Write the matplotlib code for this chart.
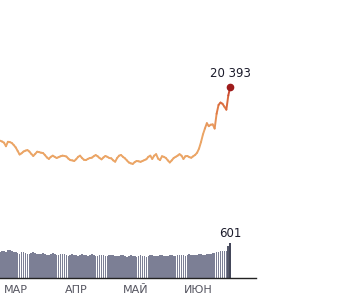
import numpy as np
import matplotlib
matplotlib.use("Agg")
import matplotlib.pyplot as plt
from matplotlib.collections import LineCollection
from matplotlib.colors import LinearSegmentedColormap

# Daily cases, from 27 Feb (day -2 relative to 1 Mar) to 25 Jun
cases = [11240, 11100, 10900, 10300, 11050, 11000, 10850, 10500, 10100, 9500,
         8900, 9100, 9400, 9550, 9650, 9400, 9000, 8650, 9000, 9370,
         9300, 9200, 9150, 8800, 8400, 8150, 8500, 8700, 8500, 8300,
         8450, 8600, 8700, 8650, 8550, 8200, 7950, 7900, 7800, 8100,
         8500, 8700, 8300, 8000, 7950, 8150, 8300, 8350, 8600, 8800,
         8600, 8300, 8080, 8400, 8650, 8500, 8300, 8250, 7900, 7680,
         8300, 8700, 8814, 8500, 8250, 7900, 7550, 7400, 7300, 7600,
         7800, 7750, 7650, 7800, 7950, 8100, 8500, 8700, 8150, 8700,
         8950, 8200, 7950, 8600, 8500, 8300, 7900, 7550, 7900, 8300,
         8500, 8700, 8950, 8700, 8150, 8600, 8650, 8450, 8350, 8600,
         8830, 9200, 9900, 11000, 12300, 13300, 14200, 13700, 13950, 14000,
         13300, 15800, 17300, 17700, 17500, 17000, 16500, 18900, 20393]

# Daily deaths, same days
deaths = [455, 470, 462, 440, 478, 485, 470, 452, 448, 430,
          418, 440, 452, 435, 420, 410, 425, 440, 428, 412,
          405, 418, 430, 415, 400, 395, 410, 422, 415, 400,
          392, 405, 418, 410, 398, 385, 395, 410, 402, 390,
          380, 396, 408, 400, 388, 378, 392, 405, 398, 386,
          375, 390, 402, 395, 384, 372, 388, 398, 392, 380,
          370, 385, 396, 388, 378, 368, 380, 392, 386, 376,
          365, 378, 390, 384, 374, 366, 380, 392, 388, 378,
          370, 384, 396, 392, 382, 374, 386, 398, 395, 386,
          378, 390, 402, 398, 390, 382, 395, 408, 404, 396,
          388, 400, 412, 408, 400, 395, 410, 420, 416, 425,
          430, 440, 450, 458, 462, 466, 470, 548, 601]

month_ticks = [0, 31, 61, 92]
month_labels = ["МАР", "АПР", "МАЙ", "ИЮН"]
first_day = -2

days = np.arange(len(cases)) + first_day
ddays = np.arange(len(deaths)) + first_day

W, H = 350, 305
fig = plt.figure(figsize=(W / 100, H / 100), dpi=100)
fig.patch.set_facecolor("white")

xl = (-2.05, 129.2)
axw = 256 / W

# Line axes
ax1 = fig.add_axes([0, (H - 207) / H, axw, 207 / H])
ax1.set_xlim(*xl)
ax1.set_ylim(0, 207 / 0.0059)
ax1.axis("off")

cmap = LinearSegmentedColormap.from_list("c", ["#EBA566", "#EBA566", "#E07A45", "#C8432E"])
pts = np.column_stack([days, cases]).reshape(-1, 1, 2)
segs = np.concatenate([pts[:-1], pts[1:]], axis=1)
vals = np.array(cases, dtype=float)
midv = (vals[:-1] + vals[1:]) / 2
norm = plt.Normalize(9000, 20393)
lc = LineCollection(segs, cmap=cmap, norm=norm, linewidths=1.4, capstyle="round", joinstyle="round")
lc.set_array(midv)
ax1.add_collection(lc)
ax1.plot([days[-1]], [cases[-1]], "o", color="#9E1B1B", markersize=4.5, zorder=5)
ax1.annotate(f"{cases[-1]:,}".replace(",", " "), (days[-1], cases[-1]),
             xytext=(0, 5), textcoords="offset points", ha="center", va="bottom",
             fontsize=8.5, color="#1b1b2b")

# Bar axes
ax2 = fig.add_axes([0, 27 / H, axw, 58 / H])
ax2.set_xlim(*xl)
ax2.set_ylim(0, 58 * 17.2)
colors = ["#7c7f95"] * len(deaths)
colors[-1] = "#44475a"
colors[-2] = "#55586a"
ax2.bar(ddays, deaths, width=0.85, color=colors, linewidth=0)
ax2.annotate(str(deaths[-1]), (ddays[-1], deaths[-1]), xytext=(0, 2),
             textcoords="offset points", ha="center", va="bottom",
             fontsize=8.5, color="#1b1b2b")
for s in ["top", "right", "left"]:
    ax2.spines[s].set_visible(False)
ax2.spines["bottom"].set_color("#222222")
ax2.spines["bottom"].set_linewidth(1.0)
ax2.set_yticks([])
ax2.set_xticks(month_ticks)
ax2.set_xticklabels(month_labels, ha="left", fontsize=8, color="#555560")
ax2.tick_params(axis="x", length=0, pad=5)
ax2.patch.set_alpha(0)

fig.savefig("out.png", dpi=100, facecolor="white")
